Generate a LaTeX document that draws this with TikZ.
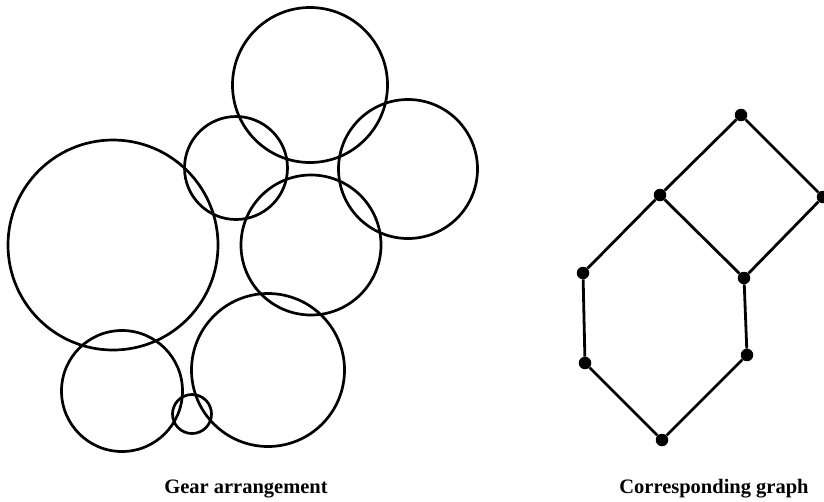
\documentclass[tikz,border=0pt]{standalone}
\usepackage{fontspec}
\setmainfont{Liberation Serif}
\begin{document}
\begin{tikzpicture}[x=1pt,y=-1pt,
  gear/.style={line width=2.7pt},
  edge/.style={line width=2.8pt},
  vtx/.style={circle,fill=black,inner sep=0pt,minimum size=12.5pt},
  caption/.style={font=\bfseries\fontsize{20.5}{24}\selectfont,anchor=base}]
\useasboundingbox (0,0) rectangle (824,501);
\clip (0,0) rectangle (824,501);
% gears
\draw[gear] (310,85) circle (77.5);
\draw[gear] (236,168) circle (51.5);
\draw[gear] (408,169) circle (69.5);
\draw[gear] (311,245) circle (70);
\draw[gear] (113,245) circle (105);
\draw[gear] (122,391) circle (60.5);
\draw[gear] (268,370) circle (76.5);
\draw[gear] (192,414) circle (19.5);
% graph of meshing gears
\node[vtx] (a) at (741,115) {};
\node[vtx] (b) at (660,195) {};
\node[vtx] (c) at (823,197) {};
\node[vtx] (d) at (744,278) {};
\node[vtx] (e) at (583,273) {};
\node[vtx] (f) at (585,363) {};
\node[vtx] (g) at (747,355) {};
\node[vtx] (h) at (662,440) {};
\draw[edge] (a) -- (b);
\draw[edge] (a) -- (c);
\draw[edge] (b) -- (d);
\draw[edge] (c) -- (d);
\draw[edge] (b) -- (e);
\draw[edge] (d) -- (g);
\draw[edge] (e) -- (f);
\draw[edge] (f) -- (h);
\draw[edge] (g) -- (h);
% captions
\node[caption] (capl) at (246,493) {Gear arrangement};
\node[caption] (capr) at (714,493) {Corresponding graph};
\end{tikzpicture}
\end{document}
